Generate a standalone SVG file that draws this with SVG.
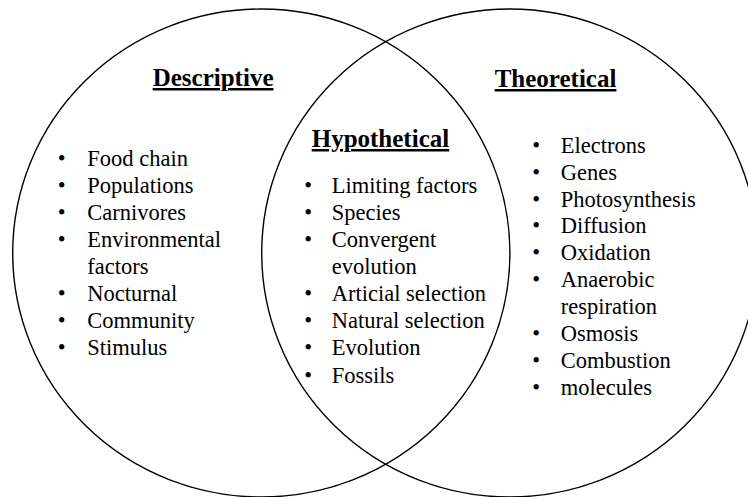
<svg xmlns="http://www.w3.org/2000/svg" width="748" height="497" viewBox="0 0 748 497">
<style>
.ring{fill:none;stroke:#000;stroke-width:1.4}
.hd{font-family:"Liberation Serif","Times New Roman",serif;font-weight:bold;font-size:25px;fill:#000;text-decoration:underline}
.it{font-family:"Liberation Serif","Times New Roman",serif;font-size:22.5px;fill:#000}
.bl{font-family:"Liberation Serif","Times New Roman",serif;font-size:22.5px;fill:#000;text-anchor:middle}
</style>
<rect width="748" height="497" fill="#fff"/>
<g id="connectors"></g>
<g id="descriptive">
<ellipse class="ring" cx="261.3" cy="253" rx="248.6" ry="244"/>
<text class="hd" x="152.7" y="86">Descriptive</text>
<g class="bl">
<text x="61.7" y="165.7">•</text>
<text x="61.7" y="192.8">•</text>
<text x="61.7" y="219.9">•</text>
<text x="61.7" y="247">•</text>
<text x="61.7" y="301.2">•</text>
<text x="61.7" y="328.3">•</text>
<text x="61.7" y="355.4">•</text>
</g>
<g class="it">
<text x="87.3" y="165.7">Food chain</text>
<text x="87.3" y="192.8">Populations</text>
<text x="87.3" y="219.9">Carnivores</text>
<text x="87.3" y="247">Environmental</text>
<text x="87.3" y="274.1">factors</text>
<text x="87.3" y="301.2">Nocturnal</text>
<text x="87.3" y="328.3">Community</text>
<text x="87.3" y="355.4">Stimulus</text>
</g>
</g>
<g id="theoretical">
<ellipse class="ring" cx="509.7" cy="253" rx="248" ry="244"/>
<text class="hd" x="494.7" y="87">Theoretical</text>
<g class="bl">
<text x="536.3" y="152.7">•</text>
<text x="536.3" y="179.6">•</text>
<text x="536.3" y="206.5">•</text>
<text x="536.3" y="233.4">•</text>
<text x="536.3" y="260.3">•</text>
<text x="536.3" y="287.2">•</text>
<text x="536.3" y="341">•</text>
<text x="536.3" y="367.9">•</text>
<text x="536.3" y="394.8">•</text>
</g>
<g class="it">
<text x="560.7" y="152.7">Electrons</text>
<text x="560.7" y="179.6">Genes</text>
<text x="560.7" y="206.5">Photosynthesis</text>
<text x="560.7" y="233.4">Diffusion</text>
<text x="560.7" y="260.3">Oxidation</text>
<text x="560.7" y="287.2">Anaerobic</text>
<text x="560.7" y="314.1">respiration</text>
<text x="560.7" y="341">Osmosis</text>
<text x="560.7" y="367.9">Combustion</text>
<text x="560.7" y="394.8">molecules</text>
</g>
</g>
<g id="hypothetical">
<text class="hd" x="311.7" y="147">Hypothetical</text>
<g class="bl">
<text x="308.3" y="192.8">•</text>
<text x="308.3" y="219.9">•</text>
<text x="308.3" y="247">•</text>
<text x="308.3" y="301.2">•</text>
<text x="308.3" y="328.3">•</text>
<text x="308.3" y="355.4">•</text>
<text x="308.3" y="382.5">•</text>
</g>
<g class="it">
<text x="331.7" y="192.8">Limiting factors</text>
<text x="331.7" y="219.9">Species</text>
<text x="331.7" y="247">Convergent</text>
<text x="331.7" y="274.1">evolution</text>
<text x="331.7" y="301.2">Articial selection</text>
<text x="331.7" y="328.3">Natural selection</text>
<text x="331.7" y="355.4">Evolution</text>
<text x="331.7" y="382.5">Fossils</text>
</g>
</g>
</svg>
